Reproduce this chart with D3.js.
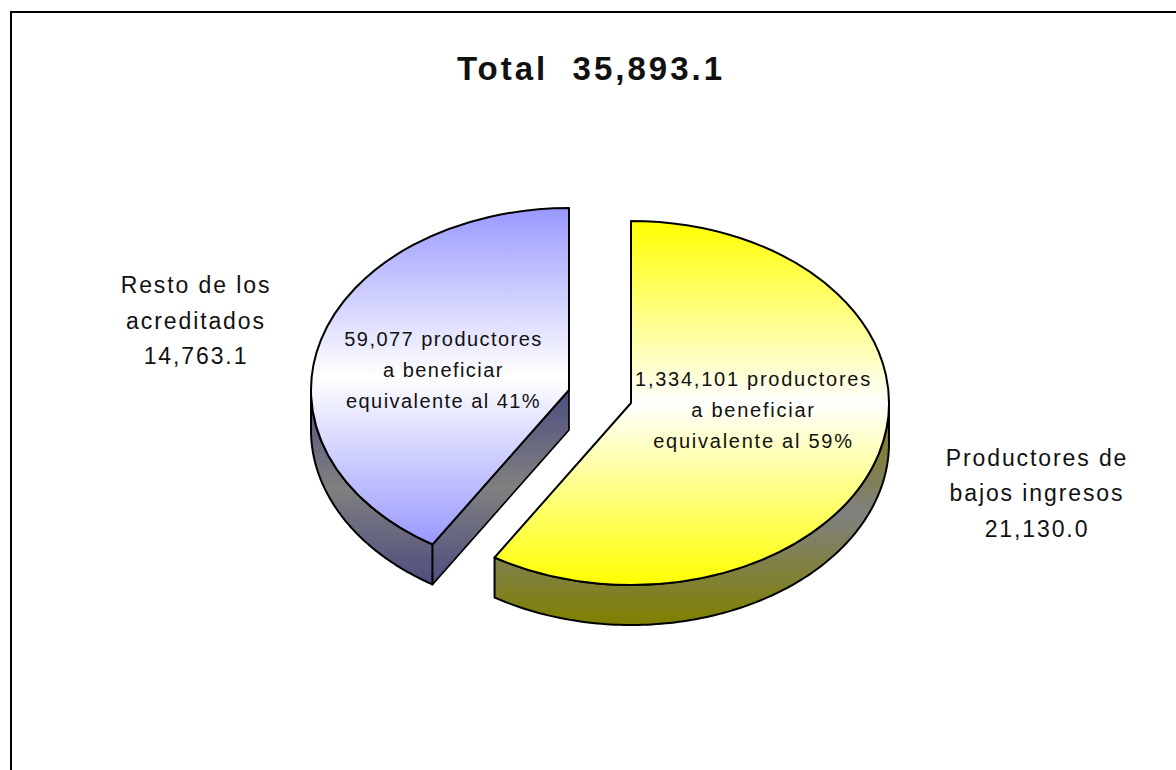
<!DOCTYPE html>
<html><head><meta charset="utf-8">
<script src="https://cdnjs.cloudflare.com/ajax/libs/d3/7.8.5/d3.min.js"></script>
<style>html,body{margin:0;padding:0;background:#fff}svg{display:block}
text{font-family:"Liberation Sans",Arial,sans-serif;fill:#111}</style></head><body>
<script>
const categories = ["Productores de bajos ingresos", "Resto de los acreditados"];
const values = [21130.0, 14763.1];
const titleText = "Total  35,893.1";
const outerLabels = [["Productores de","bajos ingresos","21,130.0"],["Resto de los","acreditados","14,763.1"]];
const innerLabels = [["1,334,101 productores","a beneficiar","equivalente al 59%"],["59,077 productores","a beneficiar","equivalente al 41%"]];
const topColors = ["#ffff00","#9999ff"];
const wallEnds = ["#808000","#4d4d80"];
const centers = [[631,403],[569,390]];
const labelPos = [{outer:[1037,465.5],inner:[753.5,386],ls:1.75},{outer:[196,293],inner:[443.5,346],ls:1.45}];

const W=1176,H=770,rx=258,ry=182,depth=40;
const svg=d3.select("body").append("svg").attr("width",W).attr("height",H);
const defs=svg.append("defs");
const pie=d3.pie().sort(null).startAngle(0).endAngle(2*Math.PI);
const arcs=pie(values);
const arcGen=d3.arc().innerRadius(0).outerRadius(rx);
const line=d3.line().curve(d3.curveLinearClosed);

svg.append("path").attr("d",d3.line()([[11,770],[11,12],[1176,12]])).attr("fill","none").attr("stroke","#000").attr("stroke-width",2);

const addText=(lines,p,size,ls,lh)=>{
  svg.append("text").attr("text-anchor","middle").style("font-size",size+"px").style("letter-spacing",ls+"px")
    .selectAll("tspan").data(lines).join("tspan").attr("x",p[0]).attr("y",(d,k)=>p[1]+k*lh).text(d=>d);
};

arcs.forEach((a,i)=>{
  const [cx,cy]=centers[i];
  const pt=(t,dy=0)=>[cx+rx*Math.sin(t),cy-ry*Math.cos(t)+dy];
  const topId="top"+i, wallId="wall"+i;
  const tg=defs.append("linearGradient").attr("id",topId).attr("x1",0).attr("y1",0).attr("x2",0).attr("y2",1);
  tg.append("stop").attr("offset",0).attr("stop-color",topColors[i]);
  tg.append("stop").attr("offset",.5).attr("stop-color","#fff");
  tg.append("stop").attr("offset",1).attr("stop-color",topColors[i]);
  const wg=defs.append("linearGradient").attr("id",wallId).attr("x1",0).attr("y1",0).attr("x2",0).attr("y2",1);
  wg.append("stop").attr("offset",0).attr("stop-color",wallEnds[i]);
  wg.append("stop").attr("offset",.5).attr("stop-color","#808080");
  wg.append("stop").attr("offset",1).attr("stop-color",wallEnds[i]);
  const g=svg.append("g");
  const t0=Math.max(a.startAngle,Math.PI/2), t1=Math.min(a.endAngle,1.5*Math.PI);
  const steps=d3.range(0,121).map(k=>t0+(t1-t0)*k/120);
  const rim=steps.map(t=>pt(t,0)).concat(steps.slice().reverse().map(t=>pt(t,depth)));
  g.append("path").attr("d",line(rim)).attr("fill",`url(#${wallId})`).attr("stroke","#000").attr("stroke-width",2).attr("stroke-linejoin","round");
  if(i===1){
    const face=[pt(a.startAngle),[cx,cy],[cx,cy+depth],pt(a.startAngle,depth)];
    g.append("path").attr("d",line(face)).attr("fill",`url(#${wallId})`).attr("stroke","#000").attr("stroke-width",1.7).attr("stroke-linejoin","round");
  }
  g.append("path").attr("d",arcGen(a)).attr("transform",`translate(${cx},${cy}) scale(1,${ry/rx})`)
    .attr("fill",`url(#${topId})`).attr("stroke","#000").attr("stroke-width",2).attr("stroke-linejoin","round")
    .attr("vector-effect","non-scaling-stroke");
});
arcs.forEach((a,i)=>{
  addText(outerLabels[i],labelPos[i].outer,23,1.9,35.7);
  addText(innerLabels[i],labelPos[i].inner,20,labelPos[i].ls,31.2);
});
svg.append("text").attr("x",591).attr("y",79.5).attr("text-anchor","middle").style("font-size","33px").style("font-weight","700").style("letter-spacing","3px").style("white-space","pre").text(titleText);
</script></body></html>
